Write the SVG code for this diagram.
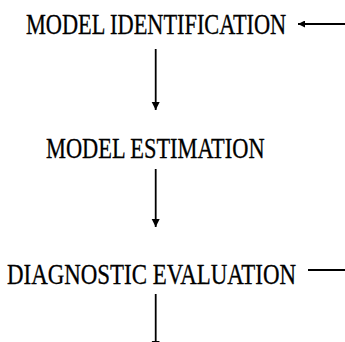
<svg xmlns="http://www.w3.org/2000/svg" width="345" height="342" viewBox="0 0 345 342">
<style>
.t{font-family:"Liberation Serif","Times New Roman",serif;font-size:29px;fill:#000;stroke:#000;stroke-width:0.3}
.c{stroke:#000;stroke-width:1.8;fill:none}
</style>
<defs>
<marker id="ah" viewBox="0 0 10 10" refX="10" refY="5" markerWidth="8" markerHeight="11" markerUnits="userSpaceOnUse" orient="auto">
<path d="M0,0 L10,5 L0,10 z" fill="#000"/>
</marker>
<marker id="ahs" viewBox="0 0 10 10" refX="10" refY="5" markerWidth="8" markerHeight="7" markerUnits="userSpaceOnUse" orient="auto">
<path d="M0,0 L10,5 L0,10 z" fill="#000"/>
</marker>
</defs>
<rect width="345" height="342" fill="#fff"/>
<g id="n1"><text class="t" transform="matrix(0.77,0,0,1,26,34)">MODEL IDENTIFICATION</text></g>
<g id="n2"><text class="t" transform="matrix(0.772,0,0,1,46,158)">MODEL ESTIMATION</text></g>
<g id="n3"><text class="t" transform="matrix(0.79,0,0,1,7,284)">DIAGNOSTIC EVALUATION</text></g>
<g id="connectors">
<line class="c" x1="155.7" y1="49" x2="155.7" y2="110" marker-end="url(#ah)"/>
<line class="c" x1="155.7" y1="169" x2="155.7" y2="227" marker-end="url(#ah)"/>
<line class="c" x1="155.7" y1="294" x2="155.7" y2="349" marker-end="url(#ah)"/>
<line class="c" x1="345" y1="24" x2="298" y2="24" marker-end="url(#ahs)"/>
<line class="c" x1="308" y1="270" x2="345" y2="270"/>
</g>
</svg>
